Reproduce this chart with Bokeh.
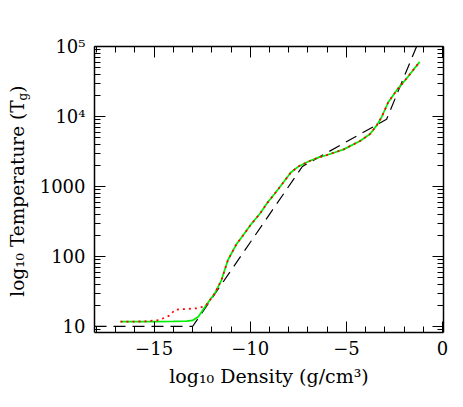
import math
from bokeh.plotting import figure
from bokeh.layouts import row
from bokeh.models import Range1d, FixedTicker, LinearAxis, LogAxis
from bokeh.core.properties import value
from bokeh.embed import file_html
from bokeh.resources import INLINE

# ---- data (log10 density, temperature) ----
dens_green = [-16.75, -15.0, -14.0, -13.3, -13.0, -12.7, -12.45, -12.28, -11.85, -11.5,
              -11.16, -10.73, -10.35, -9.96, -9.5, -9.10, -8.75, -8.41, -7.89, -7.47,
              -6.95, -6.5, -6.0, -5.14, -4.29, -3.77, -3.43, -3.17, -2.83, -2.40,
              -1.88, -1.19]
temp_green = [11.7, 11.7, 11.8, 11.9, 12.2, 13.8, 17.4, 20.4, 29.5, 45.7,
              89, 148, 204, 288, 407, 589, 776, 1023, 1585, 1950,
              2290, 2570, 2820, 3390, 4470, 5620, 7410, 9770, 15850, 23400,
              34700, 60300]

dens_red = [-16.75, -15.5, -14.77, -14.4, -14.17, -13.91, -13.3, -12.7, -12.4, -12.28,
            -11.85, -11.5, -11.16, -10.73, -10.35, -9.96, -9.5, -9.10, -8.75, -8.41,
            -7.89, -7.47, -6.95, -6.5, -6.0, -5.14, -4.29, -3.77, -3.43, -3.17,
            -2.83, -2.40, -1.88, -1.19]
temp_red = [11.7, 11.8, 12.3, 13.5, 14.5, 17.4, 17.8, 18.2, 19.5, 20.4,
            29.5, 45.7, 89, 148, 204, 288, 407, 589, 776, 1023,
            1585, 1950, 2290, 2570, 2820, 3390, 4470, 5620, 7410, 9770,
            15850, 23400, 34700, 60300]

dens_eos = [-18.1, -13.0, -7.29, -2.91, -1.2]
temp_eos = [10, 10, 1930, 9120, 126000]

x_major = [-15, -10, -5, 0]
x_minor = list(range(-18, 1))
y_major = [10, 100, 1000, 10000, 100000]
y_major_labels = ["10", "100", "1000", "10\u2074", "10\u2075"]
y_minor = [m * 10 ** k for k in range(0, 5) for m in range(2, 10)]

x_title = "log\u2081\u2080 Density (g/cm\u00b3)"
y_title_main = "log\u2081\u2080 Temperature (T"
y_title_sub = "g"
y_title_end = ")"

FONT = "DejaVu Serif"
Y_RANGE = (8.2, 1e5)
LEFT_W = 36
H = 399

# ---- narrow panel holding the y-axis title ----
lp = figure(width=LEFT_W, height=H, x_range=Range1d(0, LEFT_W), y_range=Range1d(*Y_RANGE),
            y_axis_type="log", output_backend="svg", toolbar_location=None,
            x_axis_location=None, y_axis_location=None,
            min_border_left=0, min_border_right=0, min_border_top=46, min_border_bottom=67)
lp.grid.visible = False
lp.outline_line_color = None
lp.border_fill_color = "white"
lp.background_fill_color = "white"
lp.text(x=[17], y=[10 ** 4.229], text=[y_title_main], angle=math.pi / 2,
        text_align="right", text_baseline="middle", text_font=value(FONT),
        text_font_size=value("18.5px"), text_color="black")
lp.text(x=[22], y=[10 ** 4.229], text=[y_title_sub], angle=math.pi / 2,
        text_align="left", text_baseline="middle", text_font=value(FONT),
        text_font_size=value("12px"), text_color="black")
lp.text(x=[17], y=[10 ** 4.34], text=[y_title_end], angle=math.pi / 2,
        text_align="left", text_baseline="middle", text_font=value(FONT),
        text_font_size=value("18.5px"), text_color="black")

# ---- main plot ----
p = figure(width=455 - LEFT_W, height=H,
           x_range=Range1d(-18.1, 0.05), y_range=Range1d(*Y_RANGE),
           y_axis_type="log", output_backend="svg", toolbar_location=None,
           min_border_left=92 - LEFT_W, min_border_right=12, min_border_top=46,
           min_border_bottom=67)
p.grid.visible = False
p.outline_line_color = None
p.background_fill_color = "white"
p.border_fill_color = "white"

xt = FixedTicker(ticks=x_major, minor_ticks=x_minor)
yt = FixedTicker(ticks=y_major, minor_ticks=y_minor)


def style(ax, labels=True):
    ax.axis_line_width = 1.5
    ax.axis_line_color = "black"
    ax.major_tick_in = 11
    ax.major_tick_out = 0
    ax.minor_tick_in = 6
    ax.minor_tick_out = 0
    ax.major_tick_line_color = "black"
    ax.minor_tick_line_color = "black"
    ax.major_tick_line_width = 1
    ax.minor_tick_line_width = 1
    ax.major_label_text_font = FONT
    if labels:
        ax.major_label_text_color = "black"
        ax.major_label_text_font_size = "18px"
    else:
        ax.major_label_text_color = None
        ax.major_label_text_font_size = "1px"
        ax.major_label_standoff = 0


bx = p.xaxis[0]
bx.ticker = xt
style(bx)
bx.major_label_overrides = {t: ("\u2212" + str(-t) if t < 0 else str(t)) for t in x_major}
bx.major_label_standoff = 8
bx.axis_label = x_title
bx.axis_label_text_font = FONT
bx.axis_label_text_font_size = "19px"
bx.axis_label_text_font_style = "normal"
bx.axis_label_text_color = "black"
bx.axis_label_standoff = 7

ly = p.yaxis[0]
ly.ticker = yt
style(ly)
ly.major_label_overrides = {float(t): s for t, s in zip(y_major, y_major_labels)}
ly.major_label_standoff = 9

tx = LinearAxis(ticker=xt)
style(tx, labels=False)
p.add_layout(tx, "above")
ry = LogAxis(ticker=yt)
style(ry, labels=False)
p.add_layout(ry, "right")

# curves
p.line(dens_eos, temp_eos, line_color="black", line_width=1.2, line_dash="12 7")
p.line(dens_green, temp_green, line_color="#00ee00", line_width=1.7)
p.line(dens_red, temp_red, line_color="#ff0000", line_width=1.8, line_dash="2 4")

layout = row(lp, p, spacing=0)
open("out.html", "w").write(file_html(layout, INLINE))
